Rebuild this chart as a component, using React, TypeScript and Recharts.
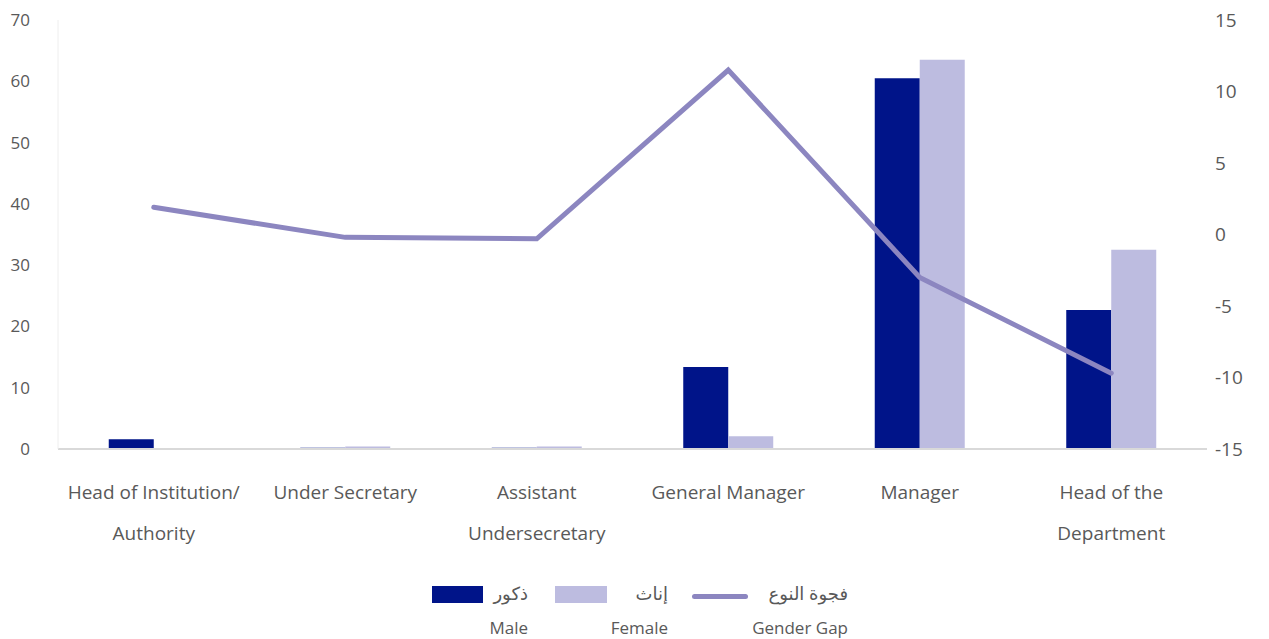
import { ComposedChart, Bar, Line, XAxis, YAxis } from 'recharts'

const categories = [
  'Head of Institution/\nAuthority',
  'Under Secretary',
  'Assistant\nUndersecretary',
  'General Manager',
  'Manager',
  'Head of the\nDepartment',
]
const maleValues = [1.6, 0.2, 0.2, 13.4, 60.5, 22.7]
const femaleValues = [0, 0.4, 0.4, 2.1, 63.5, 32.5]
const gapValues = [1.9, -0.2, -0.3, 11.5, -3.0, -9.7]
const leftTicks = [0, 10, 20, 30, 40, 50, 60, 70]
const rightTicks = [-15, -10, -5, 0, 5, 10, 15]

const MALE = '#001489'
const FEMALE = '#bdbce0'
const GAP = '#8c86c0'
const TEXT = '#595959'
const FONT = "'Open Sans', 'DejaVu Sans', sans-serif"

const data = categories.map((name, i) => ({
  name,
  male: maleValues[i],
  female: femaleValues[i],
  gap: gapValues[i],
}))

function CategoryTick(props: any) {
  const { x, y, payload } = props
  const lines = String(payload.value).split('\n')
  return (
    <text x={x} y={y} textAnchor="middle" fill={TEXT} fontSize={19} fontFamily={FONT}>
      {lines.map((l, i) => (
        <tspan key={i} x={x} dy={i === 0 ? 48 : 41}>
          {l}
        </tspan>
      ))}
    </text>
  )
}

function LegendBlock() {
  const ar: React.CSSProperties = { fontSize: 18, color: TEXT, fontFamily: FONT, textAlign: 'right', lineHeight: '20px' }
  const en: React.CSSProperties = { fontSize: 17, color: TEXT, fontFamily: FONT, textAlign: 'right', lineHeight: '20px', marginTop: 15 }
  return (
    <div style={{ position: 'absolute', left: 0, top: 0, width: 1269, height: 639, pointerEvents: 'none' }}>
      <div style={{ position: 'absolute', left: 432, top: 586, width: 51, height: 17, background: MALE }} />
      <div style={{ position: 'absolute', left: 470, top: 583, width: 58 }}>
        <div style={ar} dir="rtl">ذكور</div>
        <div style={en}>Male</div>
      </div>
      <div style={{ position: 'absolute', left: 555, top: 586, width: 52, height: 17, background: FEMALE }} />
      <div style={{ position: 'absolute', left: 600, top: 583, width: 68 }}>
        <div style={ar} dir="rtl">إناث</div>
        <div style={en}>Female</div>
      </div>
      <div style={{ position: 'absolute', left: 692, top: 594, width: 56, height: 5, borderRadius: 3, background: GAP }} />
      <div style={{ position: 'absolute', left: 740, top: 583, width: 108 }}>
        <div style={ar} dir="rtl">فجوة النوع</div>
        <div style={en}>Gender Gap</div>
      </div>
    </div>
  )
}

export default function App() {
  return (
    <div style={{ position: 'absolute', left: 0, top: 0, width: 1269, height: 639, background: '#fff' }}>
      <ComposedChart
        width={1269}
        height={639}
        data={data}
        margin={{ top: 20, right: 0, left: 0, bottom: 90 }}
        barCategoryGap="26.5%"
        barGap={0}
      >
        <XAxis
          dataKey="name"
          height={100}
          interval={0}
          tick={<CategoryTick />}
          tickLine={false}
          tickSize={0}
          axisLine={{ stroke: '#d9d9d9', strokeWidth: 2 }}
        />
        <YAxis
          yAxisId="left"
          width={58}
          domain={[0, 70]}
          ticks={leftTicks}
          tickLine={false}
          tickSize={0}
          tickMargin={28}
          axisLine={{ stroke: '#eeeeee' }}
          tick={{ fill: TEXT, fontSize: 17, fontFamily: FONT }}
        />
        <YAxis
          yAxisId="right"
          orientation="right"
          width={62}
          domain={[-15, 15]}
          ticks={rightTicks}
          tickLine={false}
          tickSize={0}
          tickMargin={8}
          axisLine={false}
          tick={{ fill: TEXT, fontSize: 19, fontFamily: FONT, textAnchor: 'start' }}
        />
        <Bar yAxisId="left" dataKey="male" fill={MALE} isAnimationActive={false} />
        <Bar yAxisId="left" dataKey="female" fill={FEMALE} isAnimationActive={false} />
        <Line
          yAxisId="right"
          dataKey="gap"
          stroke={GAP}
          strokeWidth={5}
          strokeLinecap="round"
          dot={false}
          activeDot={false}
          type="linear"
          isAnimationActive={false}
        />
      </ComposedChart>
      <LegendBlock />
    </div>
  )
}
